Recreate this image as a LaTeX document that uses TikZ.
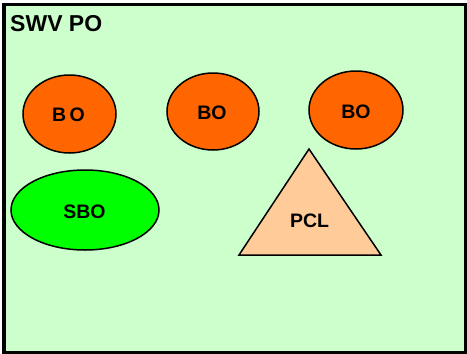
\documentclass[tikz,border=0pt]{standalone}
\usepackage{fontspec}
\setmainfont{Liberation Sans}
\usetikzlibrary{shapes.geometric}
\definecolor{bgg}{HTML}{CCFFCC}
\definecolor{bo}{HTML}{FF6600}
\definecolor{sbo}{HTML}{00FF00}
\definecolor{pcl}{HTML}{FFCC99}
\tikzset{
  oval/.style={ellipse, draw=black, line width=1.5pt, inner sep=0pt, font=\fontsize{19}{22}\selectfont\bfseries},
  lbl/.style={inner sep=0pt, font=\fontsize{19.5}{22}\selectfont\bfseries},
}
\begin{document}
\begin{tikzpicture}[x=1pt,y=-1pt]
\useasboundingbox (0,0) rectangle (467,354);
\fill[white] (0,0) rectangle (467,354);
\draw[fill=bgg, line width=3pt] (4,4) rectangle (465,352);
\node[anchor=base west, inner sep=0pt, font=\fontsize{23}{27}\selectfont\bfseries] (title) at (10,31.5) {SWV PO};
\node[oval, fill=bo, minimum width=93pt, minimum height=78pt] (bo1) at (69.5,114) {};
\node[lbl] (bo1t) at (68.5,115) {B\,O};
\node[oval, fill=bo, minimum width=92pt, minimum height=77pt] (bo2) at (213,111.5) {};
\node[lbl] (bo2t) at (212,113) {BO};
\node[oval, fill=bo, minimum width=94pt, minimum height=78pt] (bo3) at (356,110) {};
\node[lbl] (bo3t) at (356,112) {BO};
\node[oval, fill=sbo, minimum width=148pt, minimum height=80pt] (sbo) at (85,210) {};
\node[lbl] (sbot) at (84.5,212) {SBO};
\draw[fill=pcl, line width=1.5pt, line join=miter] (309,149) -- (381,255) -- (239,255) -- cycle;
\node[lbl] (pclt) at (309.5,221) {PCL};
\end{tikzpicture}
\end{document}
